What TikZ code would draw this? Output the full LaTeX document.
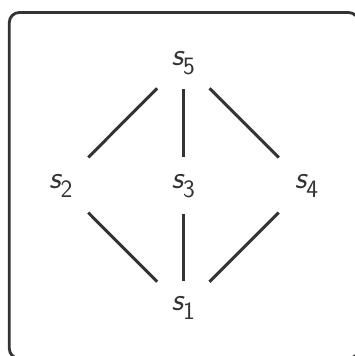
\documentclass[tikz,border=0pt]{standalone}
\definecolor{ink}{HTML}{333333}
\newcommand{\slabel}[1]{{\fontsize{32}{34}\selectfont\sffamily\itshape s}\raisebox{-9pt}{\fontsize{25}{28}\selectfont\sffamily #1}\hspace{-3pt}}
\tikzset{
  lbl/.style={inner sep=0pt, text=ink, text height=12pt, text depth=6pt},
  diag/.style={draw=ink, line width=3pt, shorten <=37pt, shorten >=39pt},
  vert/.style={draw=ink, line width=3pt, shorten <=27pt, shorten >=28.5pt},
  frame/.style={draw=ink, line width=2.8pt, rounded corners=10pt}
}
\begin{document}
\begin{tikzpicture}[x=1pt,y=-1pt]
\useasboundingbox (0,0) rectangle (355,356);
\draw[frame] (9.3,12.5) rectangle (358.5,358.5);
\node[lbl] (s5) at (183.3,62.2) {\slabel{5}};
\node[lbl] (s2) at (60.7,185) {\slabel{2}};
\node[lbl] (s3) at (183.3,185) {\slabel{3}};
\node[lbl] (s4) at (306.4,185) {\slabel{4}};
\node[lbl] (s1) at (183.3,307.9) {\slabel{1}};
\draw[diag] (s5.center) -- (s2.center);
\draw[vert] (s5.center) -- (s3.center);
\draw[diag] (s5.center) -- (s4.center);
\draw[diag] (s1.center) -- (s2.center);
\draw[vert] (s1.center) -- (s3.center);
\draw[diag] (s1.center) -- (s4.center);
\end{tikzpicture}
\end{document}
